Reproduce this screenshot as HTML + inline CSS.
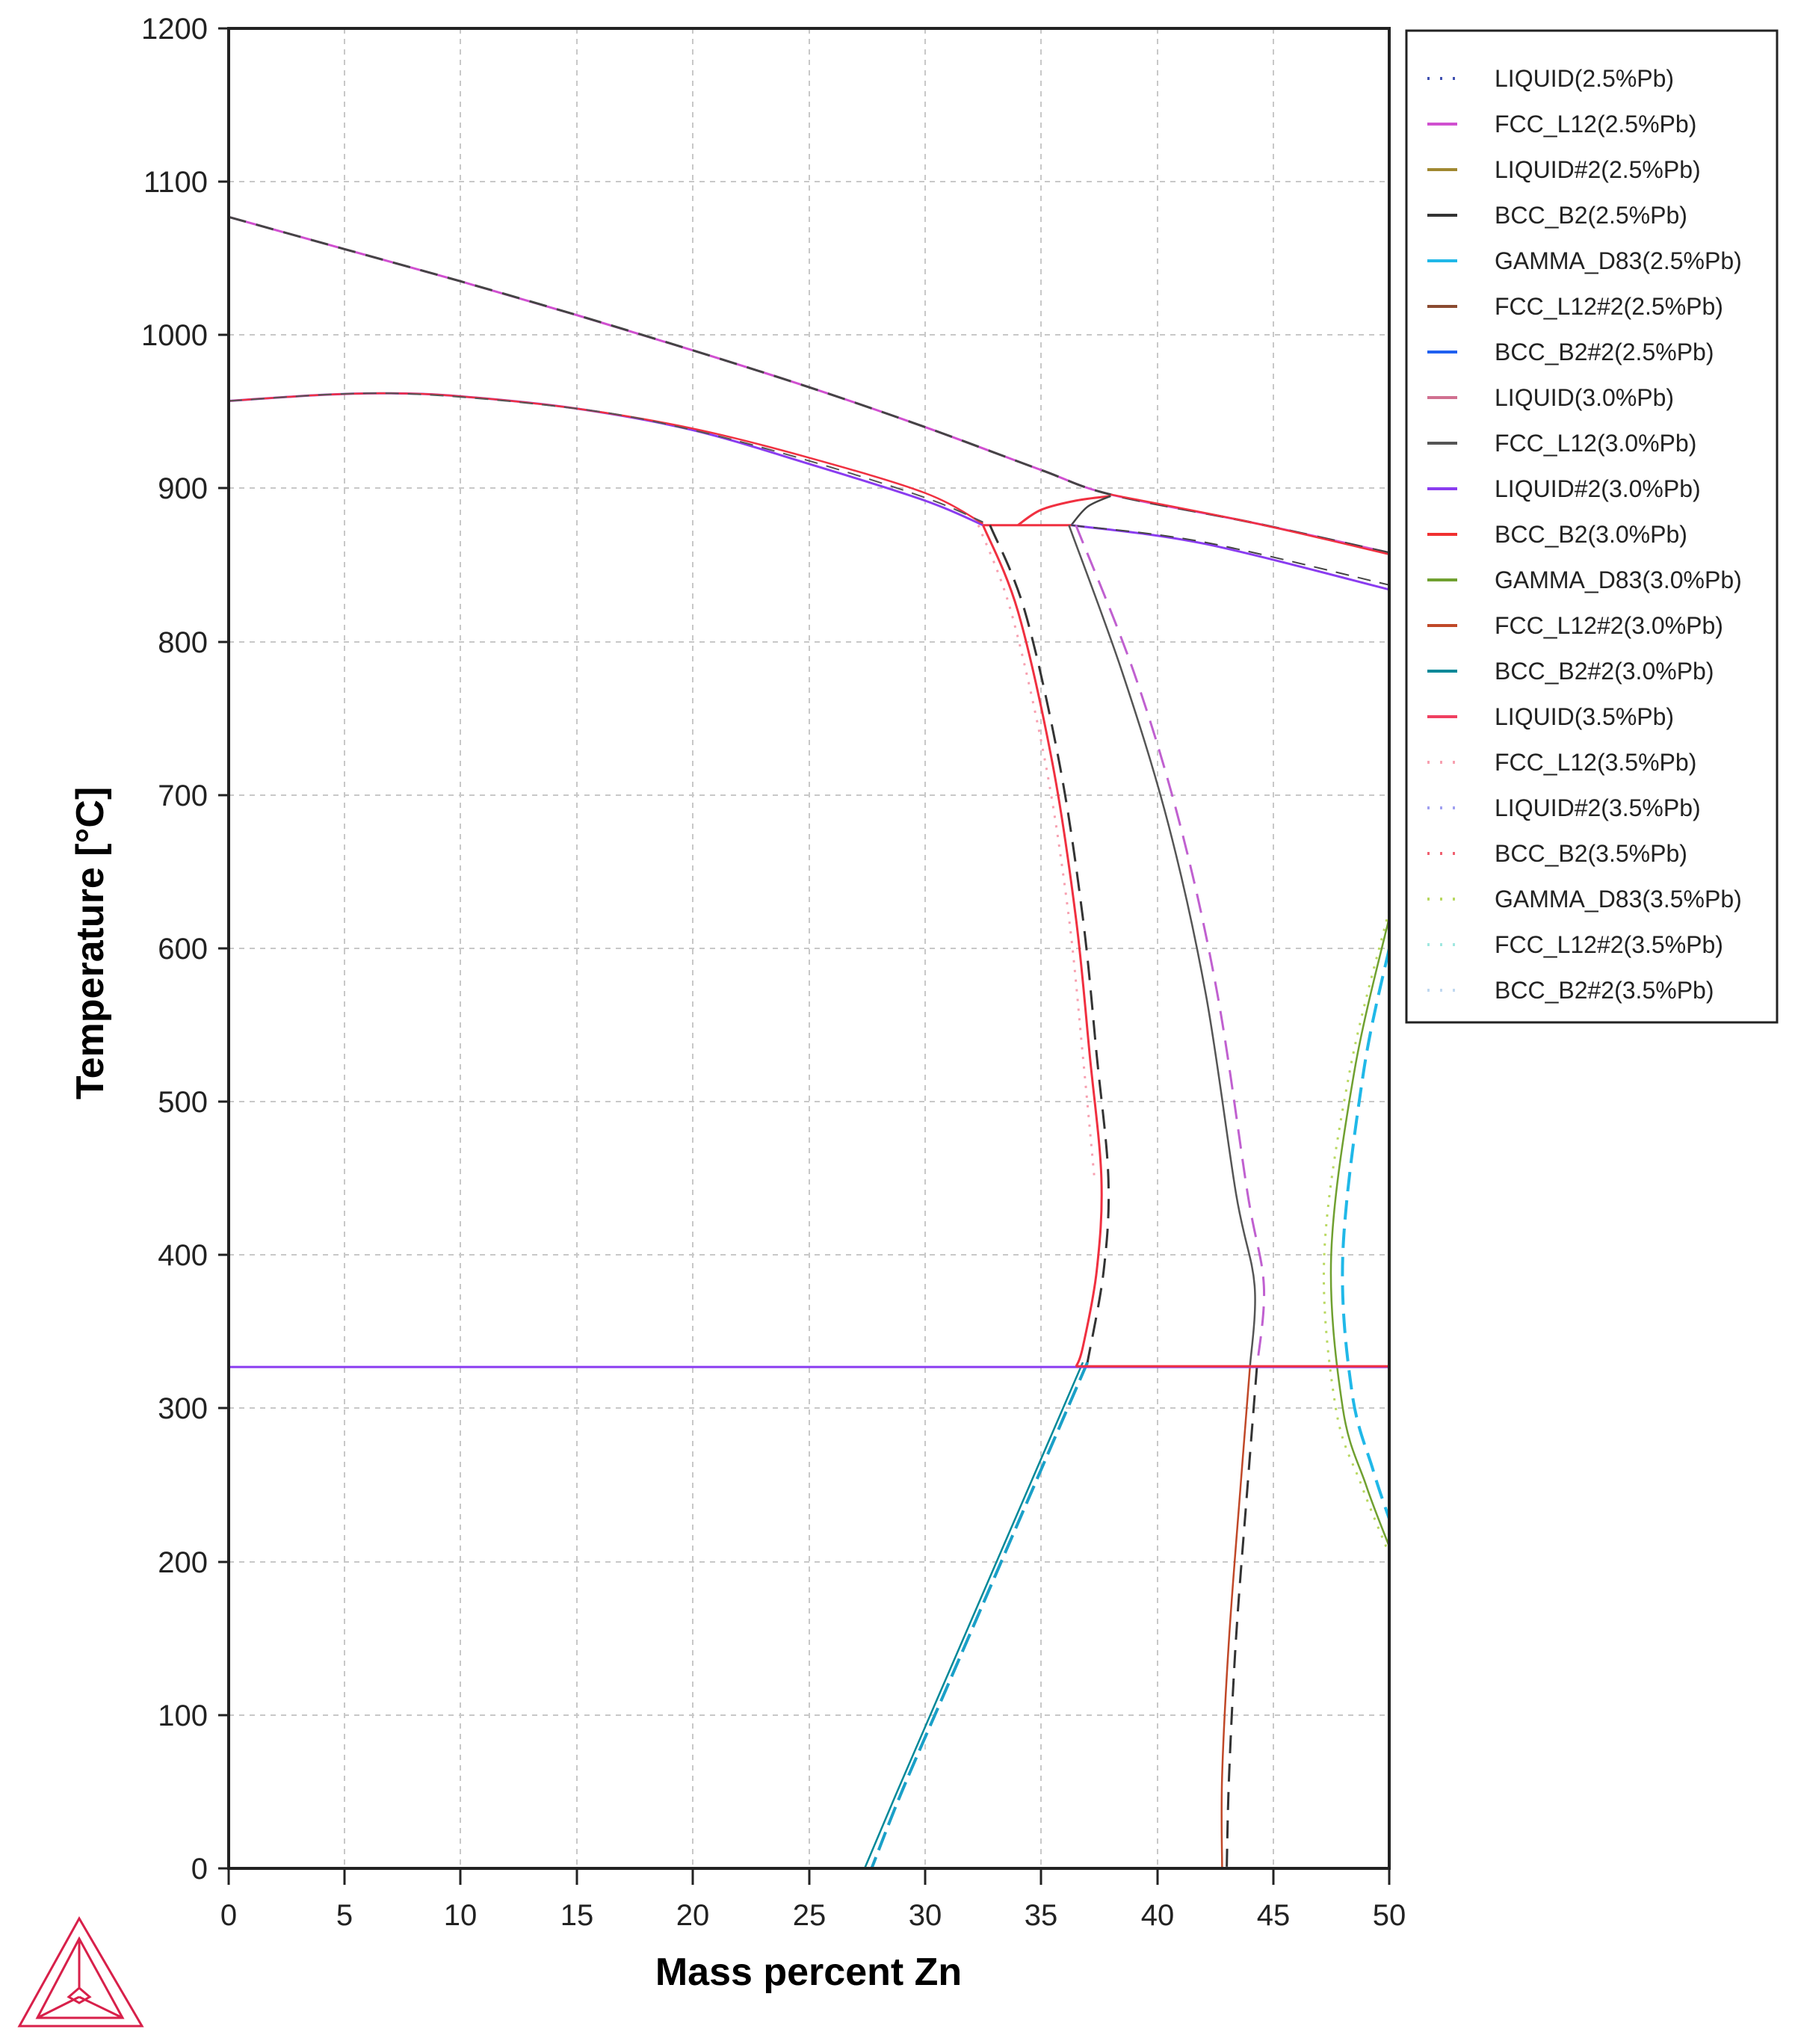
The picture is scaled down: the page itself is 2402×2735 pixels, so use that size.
<!DOCTYPE html>
<html><head><meta charset="utf-8"><style>
body{margin:0;background:#fff}
svg{display:block}
text{font-family:"Liberation Sans",sans-serif}
</style></head><body>
<svg id="s" width="2402" height="2735" viewBox="0 0 2402 2735" xmlns="http://www.w3.org/2000/svg">
<rect width="2402" height="2735" fill="#fff"/>
<g stroke="#c8c8c8" stroke-width="2" stroke-dasharray="7,7">
<line x1="461" y1="38" x2="461" y2="2500"/><line x1="616" y1="38" x2="616" y2="2500"/><line x1="772" y1="38" x2="772" y2="2500"/><line x1="927" y1="38" x2="927" y2="2500"/><line x1="1083" y1="38" x2="1083" y2="2500"/><line x1="1238" y1="38" x2="1238" y2="2500"/><line x1="1393" y1="38" x2="1393" y2="2500"/><line x1="1549" y1="38" x2="1549" y2="2500"/><line x1="1704" y1="38" x2="1704" y2="2500"/>
<line x1="306" y1="2295" x2="1859" y2="2295"/><line x1="306" y1="2090" x2="1859" y2="2090"/><line x1="306" y1="1884" x2="1859" y2="1884"/><line x1="306" y1="1679" x2="1859" y2="1679"/><line x1="306" y1="1474" x2="1859" y2="1474"/><line x1="306" y1="1269" x2="1859" y2="1269"/><line x1="306" y1="1064" x2="1859" y2="1064"/><line x1="306" y1="859" x2="1859" y2="859"/><line x1="306" y1="653" x2="1859" y2="653"/><line x1="306" y1="448" x2="1859" y2="448"/><line x1="306" y1="243" x2="1859" y2="243"/>
</g>
<g id="curves" transform="translate(306,2500) scale(31.06,-2.0517)" fill="none" stroke-linejoin="round">
 <polyline class="c" vector-effect="non-scaling-stroke" stroke="#d050d0" stroke-width="3" points="0,1077 5,1056 10,1035 15,1013 20,990 25,966 30,940 35,912 38,896 44,878 50,858"/>
 <polyline class="c" vector-effect="non-scaling-stroke" stroke="#444" stroke-width="3" stroke-dasharray="24,14" points="0,1077 5,1056 10,1035 15,1013 20,990 25,966 30,940 35,912 38,896 44,878 50,858"/>
 <polyline class="c" vector-effect="non-scaling-stroke" stroke="#f03040" stroke-width="2.5" points="38,896 44,878 50,857"/>
 <polyline class="c" vector-effect="non-scaling-stroke" stroke="#8a3cf0" stroke-width="3" points="0,957 4,961 7,962 10,960 15,952 20,938 25,916 30,892 32.5,876"/>
 <polyline class="c" vector-effect="non-scaling-stroke" stroke="#f03040" stroke-width="2.5" points="0,957 4,961 7,962 10,960 15,952 20,939 25,920 30,897 32.5,877"/>
 <polyline class="c" vector-effect="non-scaling-stroke" stroke="#555" stroke-width="2" stroke-dasharray="18,12" points="0,957 7,962 15,952 20,938 25,918 30,894 32.5,878"/>
 <polyline vector-effect="non-scaling-stroke" stroke="#f03040" stroke-width="3" points="32.5,876 36.3,876"/>
 <polyline class="c" vector-effect="non-scaling-stroke" stroke="#f03040" stroke-width="3" points="34,876 35,886 36.5,892 38,895"/>
 <polyline class="c" vector-effect="non-scaling-stroke" stroke="#444" stroke-width="2.5" points="36.3,876 37,888 38,895"/>
 <polyline class="c" vector-effect="non-scaling-stroke" stroke="#8a3cf0" stroke-width="3" points="36.3,876 42,864 50,834"/>
 <polyline class="c" vector-effect="non-scaling-stroke" stroke="#444" stroke-width="2" stroke-dasharray="18,12" points="36.3,876 42,865 50,837"/>
 <polyline class="c" vector-effect="non-scaling-stroke" stroke="#333" stroke-width="3" stroke-dasharray="26,14" points="32.8,876 34.3,820 35.8,720 36.8,620 37.4,530 37.9,450 37.7,390 37,330"/>
 <polyline class="c" vector-effect="non-scaling-stroke" stroke="#f03040" stroke-width="3" points="32.5,876 34,820 35.5,720 36.5,620 37.1,530 37.6,450 37.4,390 36.8,340 36.5,327"/>
 <polyline class="c" vector-effect="non-scaling-stroke" stroke="#f7a0b0" stroke-width="3" stroke-dasharray="3,10" points="32.3,876 33.7,820 35.2,720 36.2,620 36.8,530 37.3,450"/>
 <polyline class="c" vector-effect="non-scaling-stroke" stroke="#1aa0c8" stroke-width="4" stroke-dasharray="26,10" points="37,330 35,260 33,190 31,120 29,50 27.7,0"/>
 <polyline class="c" vector-effect="non-scaling-stroke" stroke="#008898" stroke-width="2.5" points="36.8,330 34.8,260 32.8,190 30.8,120 28.8,50 27.4,0"/>
 <polyline class="c" vector-effect="non-scaling-stroke" stroke="#c060d0" stroke-width="3" stroke-dasharray="26,14" points="36.5,876 39,780 41,680 42.6,570 43.9,440 44.6,380 44.3,327"/>
 <polyline class="c" vector-effect="non-scaling-stroke" stroke="#555" stroke-width="2.5" points="36.2,876 38.5,780 40.5,680 42.1,570 43.4,440 44.2,380 44,327"/>
 <polyline class="c" vector-effect="non-scaling-stroke" stroke="#333" stroke-width="3" stroke-dasharray="24,14" points="44.3,327 43.9,250 43.4,150 43.1,60 43,0"/>
 <polyline class="c" vector-effect="non-scaling-stroke" stroke="#c04828" stroke-width="2.5" points="44,327 43.6,250 43.1,150 42.8,60 42.8,0"/>
 <polyline class="c" vector-effect="non-scaling-stroke" stroke="#20b8e8" stroke-width="4" stroke-dasharray="26,12" points="50,600 48.9,520 48,400 48.4,310 49.3,260 50,228"/>
 <polyline class="c" vector-effect="non-scaling-stroke" stroke="#70a030" stroke-width="2.5" points="50,620 48.5,520 47.5,400 48,300 49,250 50,210"/>
 <polyline class="c" vector-effect="non-scaling-stroke" stroke="#b8d860" stroke-width="3" stroke-dasharray="3,10" points="50,625 48.3,520 47.2,400 47.7,300 48.8,250 50,205"/>
 <polyline vector-effect="non-scaling-stroke" stroke="#8a3cf0" stroke-width="3" points="0,327 50,327"/>
 <polyline vector-effect="non-scaling-stroke" stroke="#f03040" stroke-width="3" points="36.5,327.5 50,327.5"/>
</g>
<rect x="306" y="38" width="1553" height="2462" fill="none" stroke="#222" stroke-width="4"/>
<g stroke="#222" stroke-width="3">
<line x1="292" y1="2500" x2="306" y2="2500"/><line x1="292" y1="2295" x2="306" y2="2295"/><line x1="292" y1="2090" x2="306" y2="2090"/><line x1="292" y1="1884" x2="306" y2="1884"/><line x1="292" y1="1679" x2="306" y2="1679"/><line x1="292" y1="1474" x2="306" y2="1474"/><line x1="292" y1="1269" x2="306" y2="1269"/><line x1="292" y1="1064" x2="306" y2="1064"/><line x1="292" y1="859" x2="306" y2="859"/><line x1="292" y1="653" x2="306" y2="653"/><line x1="292" y1="448" x2="306" y2="448"/><line x1="292" y1="243" x2="306" y2="243"/><line x1="292" y1="38" x2="306" y2="38"/>
<line x1="306" y1="2500" x2="306" y2="2522"/><line x1="461" y1="2500" x2="461" y2="2522"/><line x1="616" y1="2500" x2="616" y2="2522"/><line x1="772" y1="2500" x2="772" y2="2522"/><line x1="927" y1="2500" x2="927" y2="2522"/><line x1="1083" y1="2500" x2="1083" y2="2522"/><line x1="1238" y1="2500" x2="1238" y2="2522"/><line x1="1393" y1="2500" x2="1393" y2="2522"/><line x1="1549" y1="2500" x2="1549" y2="2522"/><line x1="1704" y1="2500" x2="1704" y2="2522"/><line x1="1859" y1="2500" x2="1859" y2="2522"/>
</g>
<g font-size="40" fill="#222" text-anchor="end">
<text x="278" y="2514">0</text><text x="278" y="2309">100</text><text x="278" y="2104">200</text><text x="278" y="1898">300</text><text x="278" y="1693">400</text><text x="278" y="1488">500</text><text x="278" y="1283">600</text><text x="278" y="1078">700</text><text x="278" y="873">800</text><text x="278" y="667">900</text><text x="278" y="462">1000</text><text x="278" y="257">1100</text><text x="278" y="52">1200</text>
</g>
<g font-size="40" fill="#222" text-anchor="middle">
<text x="306" y="2576">0</text><text x="461" y="2576">5</text><text x="616" y="2576">10</text><text x="772" y="2576">15</text><text x="927" y="2576">20</text><text x="1083" y="2576">25</text><text x="1238" y="2576">30</text><text x="1393" y="2576">35</text><text x="1549" y="2576">40</text><text x="1704" y="2576">45</text><text x="1859" y="2576">50</text>
</g>
<text x="1082" y="2656" font-size="52" font-weight="bold" text-anchor="middle" fill="#000">Mass percent Zn</text>
<text transform="translate(138,1262) rotate(-90)" font-size="52" font-weight="bold" text-anchor="middle" fill="#000">Temperature [°C]</text>
<rect x="1882" y="41" width="496" height="1327" fill="#fff" stroke="#222" stroke-width="3"/>
<g stroke-width="4">
<line x1="1910" y1="105" x2="1950" y2="105" stroke="#4050b0" stroke-dasharray="3,14"/>
<line x1="1910" y1="166" x2="1950" y2="166" stroke="#d050d0"/>
<line x1="1910" y1="227" x2="1950" y2="227" stroke="#a08830"/>
<line x1="1910" y1="288" x2="1950" y2="288" stroke="#333"/>
<line x1="1910" y1="349" x2="1950" y2="349" stroke="#20b8e8"/>
<line x1="1910" y1="410" x2="1950" y2="410" stroke="#8a4a30"/>
<line x1="1910" y1="471" x2="1950" y2="471" stroke="#2060f0"/>
<line x1="1910" y1="532" x2="1950" y2="532" stroke="#d07090"/>
<line x1="1910" y1="593" x2="1950" y2="593" stroke="#555"/>
<line x1="1910" y1="654" x2="1950" y2="654" stroke="#8a3cf0"/>
<line x1="1910" y1="715" x2="1950" y2="715" stroke="#f03030"/>
<line x1="1910" y1="776" x2="1950" y2="776" stroke="#70a030"/>
<line x1="1910" y1="837" x2="1950" y2="837" stroke="#c04828"/>
<line x1="1910" y1="898" x2="1950" y2="898" stroke="#008898"/>
<line x1="1910" y1="959" x2="1950" y2="959" stroke="#f04060"/>
<line x1="1910" y1="1020" x2="1950" y2="1020" stroke="#f7a0b0" stroke-dasharray="3,14"/>
<line x1="1910" y1="1081" x2="1950" y2="1081" stroke="#a0a0f0" stroke-dasharray="3,14"/>
<line x1="1910" y1="1142" x2="1950" y2="1142" stroke="#f06070" stroke-dasharray="3,14"/>
<line x1="1910" y1="1203" x2="1950" y2="1203" stroke="#b8d860" stroke-dasharray="3,14"/>
<line x1="1910" y1="1264" x2="1950" y2="1264" stroke="#a0e8e0" stroke-dasharray="3,14"/>
<line x1="1910" y1="1325" x2="1950" y2="1325" stroke="#c0d8f0" stroke-dasharray="3,14"/>
</g>
<g font-size="32" fill="#222">
<text x="2000" y="116">LIQUID(2.5%Pb)</text>
<text x="2000" y="177">FCC_L12(2.5%Pb)</text>
<text x="2000" y="238">LIQUID#2(2.5%Pb)</text>
<text x="2000" y="299">BCC_B2(2.5%Pb)</text>
<text x="2000" y="360">GAMMA_D83(2.5%Pb)</text>
<text x="2000" y="421">FCC_L12#2(2.5%Pb)</text>
<text x="2000" y="482">BCC_B2#2(2.5%Pb)</text>
<text x="2000" y="543">LIQUID(3.0%Pb)</text>
<text x="2000" y="604">FCC_L12(3.0%Pb)</text>
<text x="2000" y="665">LIQUID#2(3.0%Pb)</text>
<text x="2000" y="726">BCC_B2(3.0%Pb)</text>
<text x="2000" y="787">GAMMA_D83(3.0%Pb)</text>
<text x="2000" y="848">FCC_L12#2(3.0%Pb)</text>
<text x="2000" y="909">BCC_B2#2(3.0%Pb)</text>
<text x="2000" y="970">LIQUID(3.5%Pb)</text>
<text x="2000" y="1031">FCC_L12(3.5%Pb)</text>
<text x="2000" y="1092">LIQUID#2(3.5%Pb)</text>
<text x="2000" y="1153">BCC_B2(3.5%Pb)</text>
<text x="2000" y="1214">GAMMA_D83(3.5%Pb)</text>
<text x="2000" y="1275">FCC_L12#2(3.5%Pb)</text>
<text x="2000" y="1336">BCC_B2#2(3.5%Pb)</text>
</g>
<g stroke="#d8204a" stroke-width="3" fill="none">
<polygon points="106,2567 26,2711 190,2711"/>
<polygon points="106,2594 50,2700 164,2700"/>
<line x1="106" y1="2594" x2="106" y2="2660"/>
<line x1="106" y1="2672" x2="50" y2="2700"/><line x1="106" y1="2672" x2="164" y2="2700"/>
<polygon points="106,2660 92,2672 106,2680 120,2672"/>
</g>
</svg>
<script>
(function(){
var ns="http://www.w3.org/2000/svg";
var pls=document.querySelectorAll("polyline.c");
for(var i=0;i<pls.length;i++){
 var pl=pls[i];
 var pts=pl.getAttribute("points").trim().split(/\s+/).map(function(s){var a=s.split(",");return [+a[0],+a[1]];});
 var d="M"+pts[0][0]+","+pts[0][1];
 for(var k=0;k<pts.length-1;k++){
  var p0=pts[k-1]||pts[k],p1=pts[k],p2=pts[k+1],p3=pts[k+2]||p2;
  var c1=[p1[0]+(p2[0]-p0[0])/6,p1[1]+(p2[1]-p0[1])/6];
  var c2=[p2[0]-(p3[0]-p1[0])/6,p2[1]-(p3[1]-p1[1])/6];
  d+=" C"+c1[0]+","+c1[1]+" "+c2[0]+","+c2[1]+" "+p2[0]+","+p2[1];
 }
 var p=document.createElementNS(ns,"path");
 for(var j=0;j<pl.attributes.length;j++){var at=pl.attributes[j];if(at.name!="points"&&at.name!="class")p.setAttribute(at.name,at.value);}
 p.setAttribute("d",d);
 pl.parentNode.replaceChild(p,pl);
}
})();
</script>
</body></html>
